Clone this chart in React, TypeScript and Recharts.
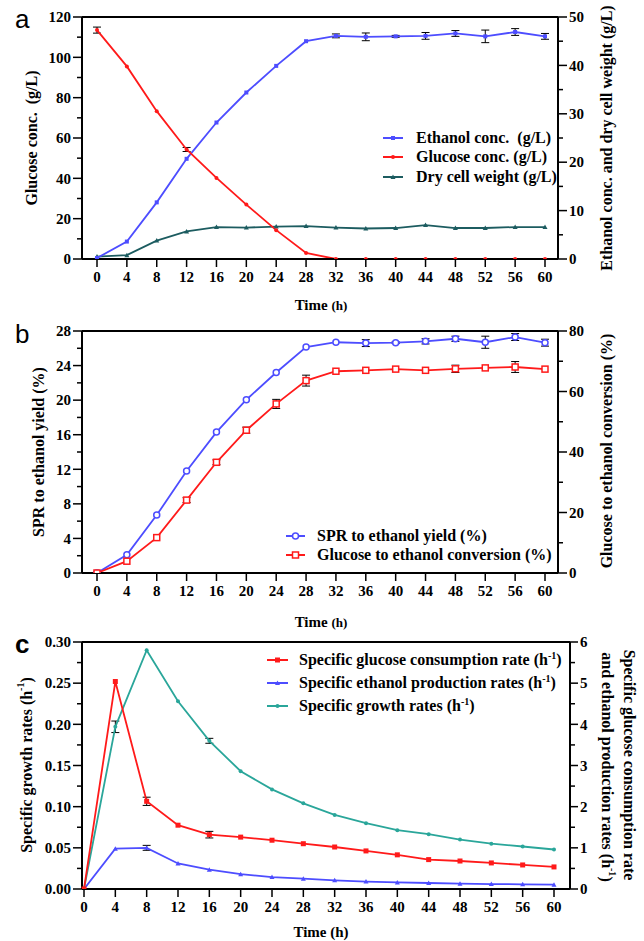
import React from 'react';
import { LineChart, Line, XAxis, YAxis, ErrorBar, ReferenceLine, Legend } from 'recharts';

const SERIF = "'Liberation Serif', 'Times New Roman', serif";

// ── data ─────────────────────────────────────────────────────────────────────
const hours = [0, 4, 8, 12, 16, 20, 24, 28, 32, 36, 40, 44, 48, 52, 56, 60];

// panel a
const glucoseConc = [113.5, 95.5, 73.3, 54.3, 40.2, 27, 14.3, 3, 0, 0, 0, 0, 0, 0, 0, 0];
const glucoseConcErr = [1.5, 0, 0, 1.0, 0, 0, 0, 0, 0, 0, 0, 0, 0, 0, 0, 0];
const ethanolConc = [0.2, 3.6, 11.7, 20.7, 28.2, 34.4, 39.9, 45.0, 46.1, 45.9, 46.0, 46.1, 46.6, 46.0, 46.9, 46.0];
const ethanolConcErr = [0, 0, 0, 0, 0, 0, 0, 0, 0.4, 0.8, 0.2, 0.7, 0.6, 1.3, 0.7, 0.6];
const dryCellWeight = [0.5, 0.8, 3.8, 5.7, 6.6, 6.5, 6.7, 6.8, 6.5, 6.3, 6.4, 7.0, 6.4, 6.4, 6.6, 6.6];

// panel b
const sprYield = [0, 2.1, 6.7, 11.8, 16.3, 20.05, 23.2, 26.15, 26.7, 26.6, 26.65, 26.8, 27.1, 26.7, 27.3, 26.65];
const sprYieldErr = [0, 0, 0, 0, 0, 0, 0, 0, 0, 0.4, 0.1, 0.3, 0.3, 0.7, 0.4, 0.4];
const glucoseConversion = [0, 3.9, 11.7, 24.1, 36.6, 47.2, 55.9, 63.6, 66.7, 67.0, 67.4, 67.0, 67.5, 67.8, 68.1, 67.4];
const glucoseConversionErr = [0, 0, 0, 0.8, 0.8, 1.0, 1.5, 1.8, 0, 0, 0, 0, 1.2, 0, 1.8, 0];

// panel c
const growthRate = [0, 0.197, 0.29, 0.228, 0.18, 0.143, 0.121, 0.104, 0.09, 0.08, 0.0715, 0.0666, 0.06, 0.055, 0.0516, 0.048];
const growthRateErr = [0, 0.007, 0, 0, 0.003, 0, 0, 0, 0, 0, 0, 0, 0, 0, 0, 0];
const glucoseRate = [0, 5.04, 2.13, 1.55, 1.32, 1.26, 1.185, 1.1, 1.02, 0.925, 0.83, 0.714, 0.68, 0.633, 0.584, 0.536];
const glucoseRateErr = [0, 0, 0.1, 0, 0.08, 0, 0, 0, 0, 0, 0, 0, 0, 0, 0, 0];
const ethanolRate = [0, 0.98, 1.0, 0.62, 0.47, 0.36, 0.29, 0.25, 0.21, 0.18, 0.16, 0.146, 0.13, 0.12, 0.114, 0.105];
const ethanolRateErr = [0, 0, 0.06, 0, 0, 0, 0, 0, 0, 0, 0, 0, 0, 0, 0, 0];

// tick values
const aLeftTicks = [0, 10, 20, 30, 40, 50, 60, 70, 80, 90, 100, 110, 120];
const aLeftLabels = [0, 20, 40, 60, 80, 100, 120];
const aRightTicks = [0, 5, 10, 15, 20, 25, 30, 35, 40, 45, 50];
const aRightLabels = [0, 10, 20, 30, 40, 50];
const bLeftTicks = [0, 2, 4, 6, 8, 10, 12, 14, 16, 18, 20, 22, 24, 26, 28];
const bLeftLabels = [0, 4, 8, 12, 16, 20, 24, 28];
const bRightTicks = [0, 10, 20, 30, 40, 50, 60, 70, 80];
const bRightLabels = [0, 20, 40, 60, 80];
const cLeftTicks = [0, 0.025, 0.05, 0.075, 0.1, 0.125, 0.15, 0.175, 0.2, 0.225, 0.25, 0.275, 0.3];
const cLeftLabels = [0, 0.05, 0.1, 0.15, 0.2, 0.25, 0.3];
const cRightTicks = [0, 0.5, 1, 1.5, 2, 2.5, 3, 3.5, 4, 4.5, 5, 5.5, 6];
const cRightLabels = [0, 1, 2, 3, 4, 5, 6];

const dataA = hours.map((h, i) => ({
  h, glu: glucoseConc[i], gluErr: glucoseConcErr[i],
  eth: ethanolConc[i], ethErr: ethanolConcErr[i], dcw: dryCellWeight[i],
}));
const dataB = hours.map((h, i) => ({
  h, spr: sprYield[i], sprErr: sprYieldErr[i], conv: glucoseConversion[i], convErr: glucoseConversionErr[i],
}));
const dataC = hours.map((h, i) => ({
  h, mu: growthRate[i], muErr: growthRateErr[i], qs: glucoseRate[i], qsErr: glucoseRateErr[i],
  qp: ethanolRate[i], qpErr: ethanolRateErr[i],
}));

// ── helpers ──────────────────────────────────────────────────────────────────
const textStyle = { fontFamily: SERIF, fontWeight: 700, fontSize: 15, fill: '#000' };
const titleStyle = { ...textStyle, fontSize: 16, whiteSpace: 'pre' as const };
const axisLine = { stroke: '#000', strokeWidth: 2 };

type Shape = 'square' | 'openSquare' | 'circle' | 'openCircle' | 'triangle';

function Marker({ cx, cy, shape, color, size }: { cx?: number; cy?: number; shape: Shape; color: string; size: number }) {
  if (cx == null || cy == null) return null;
  if (shape === 'square') return <rect x={cx - size} y={cy - size} width={size * 2} height={size * 2} fill={color} />;
  if (shape === 'openSquare')
    return <rect x={cx - size} y={cy - size} width={size * 2} height={size * 2} fill="#fff" stroke={color} strokeWidth={1.5} />;
  if (shape === 'openCircle') return <circle cx={cx} cy={cy} r={size} fill="#fff" stroke={color} strokeWidth={1.5} />;
  if (shape === 'triangle')
    return <polygon points={`${cx},${cy - size} ${cx + size},${cy + size * 0.8} ${cx - size},${cy + size * 0.8}`} fill={color} />;
  return <circle cx={cx} cy={cy} r={size} fill={color} />;
}

const dotFn = (shape: Shape, color: string, size: number) => (p: any) =>
  <Marker key={`d${p.index}`} cx={p.cx} cy={p.cy} shape={shape} color={color} size={size} />;

// custom y tick: draws its own tick line (long for labelled ticks, short for minor)
const yTick = (side: 'left' | 'right', labels: number[], size: number, margin: number, digits: number) => (p: any) => {
  const { x, y, payload } = p;
  const v = payload.value;
  const major = labels.includes(v);
  const axisX = side === 'left' ? x + size + margin : x - size - margin;
  const len = major ? size : 5;
  const x2 = side === 'left' ? axisX - len : axisX + len;
  return (
    <g>
      <line x1={axisX} y1={y} x2={x2} y2={y} stroke="#000" strokeWidth={1.5} />
      {major && (
        <text x={x} y={y} dy="0.35em" textAnchor={side === 'left' ? 'end' : 'start'} style={textStyle}>
          {v.toFixed(digits)}
        </text>
      )}
    </g>
  );
};

const vTitle = (x: number, y: number, angle: number, children: React.ReactNode) => () => (
  <text transform={`translate(${x},${y}) rotate(${angle})`} textAnchor="middle" dominantBaseline="central" style={titleStyle}>
    {children}
  </text>
);

const timeTitle = (y: number, smallH: boolean) => () => (
  <text x={321} y={y} textAnchor="middle" style={textStyle}>
    Time <tspan fontSize={smallH ? 13 : 15}>(h)</tspan>
  </text>
);

type Item = { label: React.ReactNode; color: string; shape: Shape; size: number };

const legendBox = (items: Item[], rowH: number, lineW: number, gap: number) => () => (
  <div style={{ fontFamily: SERIF, fontWeight: 700, fontSize: 16, color: '#000' }}>
    {items.map((it, i) => (
      <div key={i} style={{ height: rowH, display: 'flex', alignItems: 'center', whiteSpace: 'pre' }}>
        <svg width={lineW} height={12} style={{ marginRight: gap, overflow: 'visible' }}>
          <line x1={0} x2={lineW} y1={6} y2={6} stroke={it.color} strokeWidth={2} />
          <Marker cx={lineW / 2} cy={6} shape={it.shape} color={it.color} size={it.size} />
        </svg>
        <span>{it.label}</span>
      </div>
    ))}
  </div>
);

const BLUE = '#4d4dff';
const RED = '#ff1a1a';
const DARK_TEAL = '#1c5c60';
const TEAL = '#2aa69a';

const sup = (s: string) => <sup style={{ fontSize: 10 }}>{s}</sup>;
const supT = (s: string) => <><tspan dy={-6} fontSize={10}>{s}</tspan><tspan dy={6}>)</tspan></>;

const legendA: Item[] = [
  { label: 'Ethanol conc.  (g/L)', color: BLUE, shape: 'square', size: 2 },
  { label: 'Glucose conc. (g/L)', color: RED, shape: 'circle', size: 2 },
  { label: 'Dry cell weight (g/L)', color: DARK_TEAL, shape: 'triangle', size: 2.5 },
];
const legendB: Item[] = [
  { label: 'SPR to ethanol yield (%)', color: BLUE, shape: 'openCircle', size: 3 },
  { label: 'Glucose to ethanol conversion (%)', color: RED, shape: 'openSquare', size: 3 },
];
const legendC: Item[] = [
  { label: <>Specific glucose consumption rate (h{sup('-1')})</>, color: RED, shape: 'square', size: 2.5 },
  { label: <>Specific ethanol production rates (h{sup('-1')})</>, color: BLUE, shape: 'triangle', size: 2.5 },
  { label: <>Specific growth rates (h{sup('-1')})</>, color: TEAL, shape: 'circle', size: 2 },
];

const xAxisCommon = {
  dataKey: 'h',
  type: 'number' as const,
  domain: [0, 60],
  ticks: hours,
  interval: 0,
  height: 30,
  tickSize: 8,
  tickMargin: 4,
  axisLine,
  tickLine: { stroke: '#000', strokeWidth: 1.5 },
  tick: textStyle,
};

export default function App() {
  return (
    <div style={{ position: 'absolute', left: 0, top: 0, width: 644, height: 941, background: '#fff' }}>
      {/* a */}
      <div style={{ position: 'absolute', left: 0, top: 0 }}>
        <LineChart width={644} height={320} data={dataA} margin={{ top: 17, right: 16, bottom: 31, left: 12 }}>
          <XAxis {...xAxisCommon} padding={{ left: 15, right: 13 }} label={{ content: timeTitle(310, true) }} />
          <YAxis yAxisId="left" domain={[0, 120]} allowDataOverflow ticks={aLeftTicks} interval={0} width={70}
            tickLine={false} tickSize={9} tickMargin={2} axisLine={axisLine} tick={yTick('left', aLeftLabels, 9, 2, 0)}
            label={{ content: vTitle(31, 138, -90, 'Glucose conc.  (g/L)') }} />
          <YAxis yAxisId="right" orientation="right" domain={[0, 50]} allowDataOverflow ticks={aRightTicks} interval={0} width={70}
            tickLine={false} tickSize={9} tickMargin={2} axisLine={axisLine} tick={yTick('right', aRightLabels, 9, 2, 0)}
            label={{ content: vTitle(606, 138, -90, 'Ethanol conc. and dry cell weight (g/L)') }} />
          <ReferenceLine yAxisId="left" y={120} stroke="#000" strokeWidth={2} />
          <Line yAxisId="right" dataKey="dcw" stroke={DARK_TEAL} strokeWidth={1.8} dot={dotFn('triangle', DARK_TEAL, 2.5)} activeDot={false} isAnimationActive={false} />
          <Line yAxisId="right" dataKey="eth" stroke={BLUE} strokeWidth={1.8} dot={dotFn('square', BLUE, 2)} activeDot={false} isAnimationActive={false}>
            <ErrorBar dataKey="ethErr" width={4} stroke="#000" strokeWidth={1} direction="y" isAnimationActive={false} />
          </Line>
          <Line yAxisId="left" dataKey="glu" stroke={RED} strokeWidth={1.8} dot={dotFn('circle', RED, 2)} activeDot={false} isAnimationActive={false}>
            <ErrorBar dataKey="gluErr" width={4} stroke="#000" strokeWidth={1} direction="y" isAnimationActive={false} />
          </Line>
          <Legend layout="vertical" align="center" verticalAlign="middle" content={legendBox(legendA, 19.5, 20, 13)}
            wrapperStyle={{ left: 383, top: 128, width: 'auto', height: 'auto' }} />
        </LineChart>
      </div>

      {/* b */}
      <div style={{ position: 'absolute', left: 0, top: 300 }}>
        <LineChart width={644} height={330} data={dataB} margin={{ top: 31, right: 16, bottom: 27, left: 12 }}>
          <XAxis {...xAxisCommon} padding={{ left: 15, right: 13 }} label={{ content: timeTitle(327, true) }} />
          <YAxis yAxisId="left" domain={[0, 28]} allowDataOverflow ticks={bLeftTicks} interval={0} width={70}
            tickLine={false} tickSize={9} tickMargin={2} axisLine={axisLine} tick={yTick('left', bLeftLabels, 9, 2, 0)}
            label={{ content: vTitle(38, 152, -90, 'SPR to ethanol yield (%)') }} />
          <YAxis yAxisId="right" orientation="right" domain={[0, 80]} allowDataOverflow ticks={bRightTicks} interval={0} width={70}
            tickLine={false} tickSize={9} tickMargin={2} axisLine={axisLine} tick={yTick('right', bRightLabels, 9, 2, 0)}
            label={{ content: vTitle(606, 151, -90, 'Glucose to ethanol conversion (%)') }} />
          <ReferenceLine yAxisId="left" y={28} stroke="#000" strokeWidth={2} />
          <Line yAxisId="left" dataKey="spr" stroke={BLUE} strokeWidth={1.8} dot={dotFn('openCircle', BLUE, 3)} activeDot={false} isAnimationActive={false}>
            <ErrorBar dataKey="sprErr" width={4} stroke="#000" strokeWidth={1} direction="y" isAnimationActive={false} />
          </Line>
          <Line yAxisId="right" dataKey="conv" stroke={RED} strokeWidth={1.8} dot={dotFn('openSquare', RED, 3)} activeDot={false} isAnimationActive={false}>
            <ErrorBar dataKey="convErr" width={4} stroke="#000" strokeWidth={1} direction="y" isAnimationActive={false} />
          </Line>
          <Legend layout="vertical" align="center" verticalAlign="middle" content={legendBox(legendB, 19, 19, 12)}
            wrapperStyle={{ left: 286, top: 226.5, width: 'auto', height: 'auto' }} />
        </LineChart>
      </div>

      {/* c */}
      <div style={{ position: 'absolute', left: 0, top: 620 }}>
        <LineChart width={644} height={321} data={dataC} margin={{ top: 22, right: 14, bottom: 22, left: 12 }}>
          <XAxis {...xAxisCommon} padding={{ left: 2, right: 16 }} label={{ content: timeTitle(317, false) }} />
          <YAxis yAxisId="left" domain={[0, 0.3]} allowDataOverflow ticks={cLeftTicks} interval={0} width={70}
            tickLine={false} tickSize={9} tickMargin={2} axisLine={axisLine} tick={yTick('left', cLeftLabels, 9, 2, 2)}
            label={{ content: vTitle(26, 145, -90, <>Specific growth rates (h{supT('-1')}</>) }} />
          <YAxis yAxisId="right" orientation="right" domain={[0, 6]} allowDataOverflow ticks={cRightTicks} interval={0} width={60}
            tickLine={false} tickSize={8} tickMargin={2} axisLine={axisLine} tick={yTick('right', cRightLabels, 8, 2, 0)}
            label={{
              content: () => (
                <g>
                  {vTitle(629, 145, 90, 'Specific glucose consumption rate')()}
                  {vTitle(607, 147, 90, <>and ethanol production rates (h{supT('-1')}</>)()}
                </g>
              ),
            }} />
          <ReferenceLine yAxisId="left" y={0.3} stroke="#000" strokeWidth={2} />
          <Line yAxisId="right" dataKey="qp" stroke={BLUE} strokeWidth={1.8} dot={dotFn('triangle', BLUE, 2.5)} activeDot={false} isAnimationActive={false}>
            <ErrorBar dataKey="qpErr" width={4} stroke="#000" strokeWidth={1} direction="y" isAnimationActive={false} />
          </Line>
          <Line yAxisId="left" dataKey="mu" stroke={TEAL} strokeWidth={1.8} dot={dotFn('circle', TEAL, 2)} activeDot={false} isAnimationActive={false}>
            <ErrorBar dataKey="muErr" width={4} stroke="#000" strokeWidth={1} direction="y" isAnimationActive={false} />
          </Line>
          <Line yAxisId="right" dataKey="qs" stroke={RED} strokeWidth={1.8} dot={dotFn('square', RED, 2.5)} activeDot={false} isAnimationActive={false}>
            <ErrorBar dataKey="qsErr" width={4} stroke="#000" strokeWidth={1} direction="y" isAnimationActive={false} />
          </Line>
          <Legend layout="vertical" align="center" verticalAlign="middle" content={legendBox(legendC, 23, 21, 11)}
            wrapperStyle={{ left: 267, top: 28.5, width: 'auto', height: 'auto' }} />
        </LineChart>
      </div>

      {/* panel letters */}
      <svg width={644} height={941} style={{ position: 'absolute', left: 0, top: 0, pointerEvents: 'none' }}>
        <text x={15} y={28} style={{ fontFamily: "'Liberation Sans', Arial, sans-serif", fontSize: 26 }}>a</text>
        <text x={15} y={343} style={{ fontFamily: "'Liberation Sans', Arial, sans-serif", fontSize: 26 }}>b</text>
        <text x={15} y={653} style={{ fontFamily: "'Liberation Sans', Arial, sans-serif", fontSize: 26, fontWeight: 700 }}>c</text>
      </svg>
    </div>
  );
}
